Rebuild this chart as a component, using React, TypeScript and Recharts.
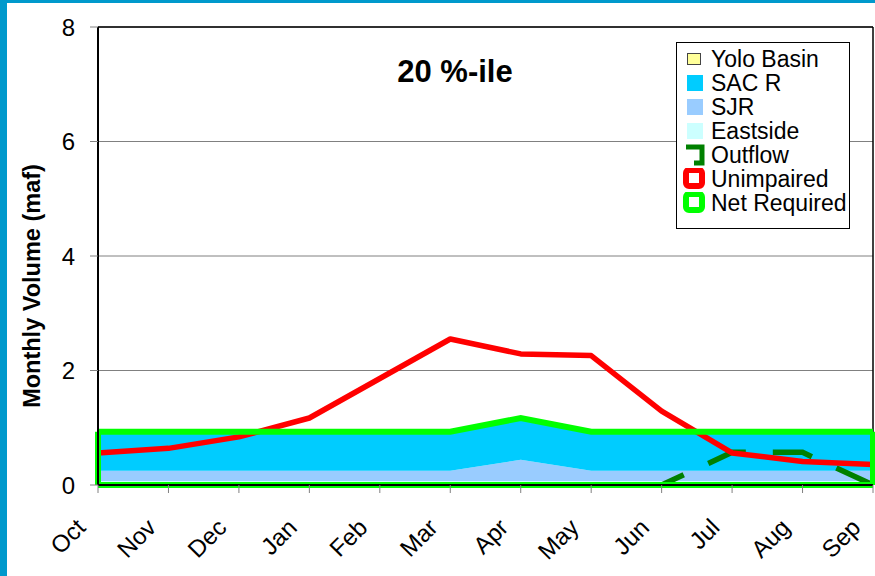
import React from 'react';
import { ComposedChart, Area, Line, XAxis, YAxis, CartesianGrid, ReferenceLine } from 'recharts';

// months along the water year
const months = ['Oct', 'Nov', 'Dec', 'Jan', 'Feb', 'Mar', 'Apr', 'May', 'Jun', 'Jul', 'Aug', 'Sep'];

// stacked supply components (maf)
const eastside = [0.07, 0.07, 0.07, 0.07, 0.07, 0.07, 0.07, 0.07, 0.07, 0.07, 0.07, 0.07];
const sjr = [0.18, 0.18, 0.18, 0.18, 0.18, 0.18, 0.37, 0.18, 0.18, 0.18, 0.18, 0.18];
const sacR = [0.68, 0.68, 0.68, 0.68, 0.68, 0.68, 0.73, 0.68, 0.68, 0.68, 0.68, 0.68];
const yoloBasin = [0, 0, 0, 0, 0, 0, 0, 0, 0, 0, 0, 0];

// lines
const outflow = [0, 0, 0, 0, 0, 0, 0, 0, 0, 0.57, 0.57, 0];
const unimpaired = [0.56, 0.64, 0.84, 1.17, 1.86, 2.55, 2.29, 2.26, 1.29, 0.56, 0.41, 0.36];
const netRequired = [0.93, 0.93, 0.93, 0.93, 0.93, 0.93, 1.17, 0.93, 0.93, 0.93, 0.93, 0.93];

const yTicks = [0, 2, 4, 6, 8];

const data = months.map((m, i) => ({
  month: m,
  eastside: eastside[i],
  sjr: sjr[i],
  sacR: sacR[i],
  yolo: yoloBasin[i],
  outflow: outflow[i],
  unimpaired: unimpaired[i],
  net: netRequired[i],
}));

const FONT = '"Liberation Sans", Arial, sans-serif';
const GREEN = '#00ff00';

const legendItems = [
  { name: 'Yolo Basin', kind: 'box', color: '#ffff99' },
  { name: 'SAC R', kind: 'fill', color: '#00ccff' },
  { name: 'SJR', kind: 'fill', color: '#99ccff' },
  { name: 'Eastside', kind: 'fill', color: '#ccffff' },
  { name: 'Outflow', kind: 'dash', color: '#008000' },
  { name: 'Unimpaired', kind: 'ring', color: '#ff0000' },
  { name: 'Net Required', kind: 'ring', color: GREEN },
];

const Swatch = ({ kind, color }: { kind: string; color: string }) => (
  <svg width={22} height={22} style={{ display: 'block' }}>
    {kind === 'box' && <rect x={4.5} y={5.5} width={13} height={11} fill={color} stroke="#444" strokeWidth={1} />}
    {kind === 'fill' && <rect x={4} y={3} width={16} height={16} fill={color} />}
    {kind === 'dash' && (
      <rect x={3} y={3} width={16} height={16} fill="none" stroke={color} strokeWidth={5}
        strokeDasharray="40 24" />
    )}
    {kind === 'ring' && (
      <rect x={3} y={2} width={16} height={16} rx={3} fill="#fff" stroke={color} strokeWidth={6} />
    )}
  </svg>
);

const MonthTick = ({ x, y, payload }: any) => {
  const ax = x - 17;
  const ay = y + 28;
  return (
    <text x={ax} y={ay} transform={`rotate(-45 ${ax} ${ay})`} textAnchor="end" dominantBaseline="central"
      fontSize={24} fontFamily={FONT} fill="#000">
      {payload.value}
    </text>
  );
};

export default function App() {
  return (
    <div style={{ position: 'relative', width: 875, height: 576, background: '#fff', overflow: 'hidden', fontFamily: FONT }}>
      <style>{'body{margin:0}'}</style>
      <ComposedChart width={875} height={576} data={data} margin={{ top: 27, right: 2, bottom: 0, left: 0 }}>
        <CartesianGrid horizontal vertical={false} stroke="#808080" />
        <XAxis dataKey="month" scale="point" padding={{ left: 0, right: 0 }} height={91}
          axisLine={{ stroke: '#000', strokeWidth: 2 }} tickLine={{ stroke: '#808080' }} tickSize={8}
          tick={<MonthTick />} interval={0} />
        <YAxis domain={[0, 8]} ticks={yTicks} width={98} tickSize={8} tickMargin={15}
          axisLine={{ stroke: '#000', strokeWidth: 2 }} tickLine={{ stroke: '#808080' }}
          tick={{ fontSize: 24, fill: '#000', fontFamily: FONT }} />
        <ReferenceLine y={8} stroke="#000" strokeWidth={1.5} />
        <ReferenceLine x="Sep" stroke="#000" strokeWidth={1.5} />

        <Area type="linear" dataKey="eastside" stackId="s" stroke="none" fill="#ccffff" fillOpacity={1} isAnimationActive={false} />
        <Area type="linear" dataKey="sjr" stackId="s" stroke="none" fill="#99ccff" fillOpacity={1} isAnimationActive={false} />
        <Area type="linear" dataKey="sacR" stackId="s" stroke="none" fill="#00ccff" fillOpacity={1} isAnimationActive={false} />
        <Area type="linear" dataKey="yolo" stackId="s" stroke="none" fill="#ffff99" fillOpacity={1} isAnimationActive={false} />

        <Line type="linear" dataKey="outflow" stroke="#008000" strokeWidth={5.5} strokeDasharray="40 27"
          strokeDashoffset={55} dot={false} activeDot={false} isAnimationActive={false} />
        <Line type="linear" dataKey="unimpaired" stroke="#ff0000" strokeWidth={5.5} strokeLinejoin="round"
          dot={false} activeDot={false} isAnimationActive={false} />

        <ReferenceLine segment={[{ x: months[0], y: 0 }, { x: months[11], y: 0 }]} stroke={GREEN} strokeWidth={6} />
        <ReferenceLine segment={[{ x: months[0], y: 0 }, { x: months[0], y: netRequired[0] }]} stroke={GREEN} strokeWidth={6} />
        <ReferenceLine segment={[{ x: months[11], y: 0 }, { x: months[11], y: netRequired[11] }]} stroke={GREEN} strokeWidth={6} />
        <Line type="linear" dataKey="net" stroke={GREEN} strokeWidth={6} dot={false} activeDot={false} isAnimationActive={false} />
      </ComposedChart>

      {/* axis title */}
      <div style={{
        position: 'absolute', left: 32, top: 286, transform: 'translate(-50%, -50%) rotate(-90deg)',
        whiteSpace: 'nowrap', fontSize: 23.5, fontWeight: 'bold', color: '#000',
      }}>
        Monthly Volume (maf)
      </div>

      {/* chart title */}
      <div style={{
        position: 'absolute', left: 455, top: 72, transform: 'translate(-50%, -50%)',
        whiteSpace: 'nowrap', fontSize: 31, fontWeight: 'bold', color: '#000',
      }}>
        20 %-ile
      </div>

      {/* legend */}
      <div style={{
        position: 'absolute', left: 676, top: 42, width: 172, height: 181, border: '1px solid #000',
        background: '#fff', paddingTop: 4, boxSizing: 'content-box',
      }}>
        {legendItems.map((it) => (
          <div key={it.name} style={{ display: 'flex', alignItems: 'center', height: 24, paddingLeft: 6 }}>
            <Swatch kind={it.kind} color={it.color} />
            <span style={{ fontSize: 23, lineHeight: '24px', marginLeft: 6, color: '#000' }}>{it.name}</span>
          </div>
        ))}
      </div>

      {/* slide frame */}
      <div style={{ position: 'absolute', left: 0, top: 0, width: 7, height: 576, background: '#0099cc' }} />
      <div style={{ position: 'absolute', left: 0, top: 0, width: 875, height: 3, background: '#0099cc' }} />
    </div>
  );
}
